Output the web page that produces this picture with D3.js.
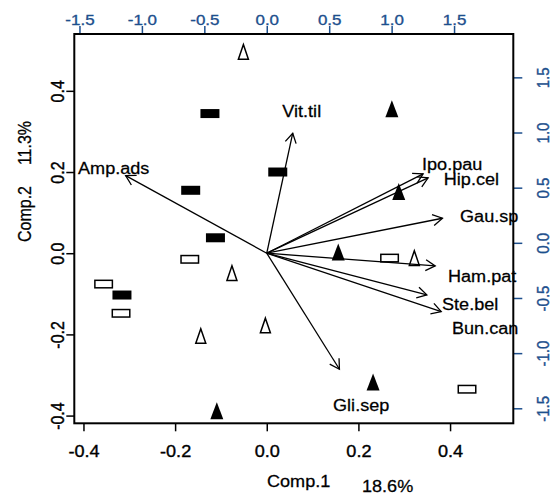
<!DOCTYPE html>
<html>
<head>
<meta charset="utf-8">
<script src="https://cdn.jsdelivr.net/npm/d3@7/dist/d3.min.js"></script>
<style>
  html, body { margin: 0; padding: 0; background: #fff; }
  svg { display: block; }
  text { font-family: "Liberation Sans", Arial, Helvetica, sans-serif; }
</style>
</head>
<body>
<svg id="chart" width="552" height="495"></svg>
<script>
// Site scores on the first two principal components
const siteComp1 = [-0.124, -0.166, 0.024, -0.112, -0.316,
                   -0.168, -0.356, -0.318, 0.268, 0.437,
                   0.273, 0.288, 0.156, 0.232, -0.109,
                   -0.051, -0.076, -0.144, -0.003, 0.322];
const siteComp2 = [0.344, 0.155, 0.200, 0.038, -0.103,
                   -0.015, -0.076, -0.148, -0.012, -0.335,
                   0.356, 0.152, 0.003, -0.317, -0.388,
                   0.496, -0.049, -0.204, -0.178, -0.012];
const siteGroup = ["A", "A", "A", "A", "A",
                   "B", "B", "B", "B", "B",
                   "C", "C", "C", "C", "C",
                   "D", "D", "D", "D", "D"];

// Species loadings (arrow tips) and where their names sit
const species = ["Amp.ads", "Vit.til", "Ipo.pau", "Hip.cel", "Gau.sp",
                 "Ham.pat", "Ste.bel", "Bun.can", "Gli.sep"];
const loadComp1 = [-1.130, 0.208, 1.252, 1.292, 1.407, 1.349, 1.282, 1.397, 0.582];
const loadComp2 = [0.702, 1.085, 0.717, 0.681, 0.316, -0.115, -0.377, -0.528, -1.049];
const labelComp1 = [-1.226, 0.280, 1.485, 1.639, 1.781, 1.725, 1.629, 1.749, 0.756];
const labelComp2 = [0.717, 1.235, 0.753, 0.618, 0.280, -0.257, -0.513, -0.732, -1.429];

// Tick values
const scoreTicks = [-0.4, -0.2, 0.0, 0.2, 0.4];
const loadTicks = [-1.5, -1.0, -0.5, 0.0, 0.5, 1.0, 1.5];

// Axis titles
const xTitle = "Comp.1", xVar = "18.6%";
const yTitle = "Comp.2", yVar = "11.3%";

// ---- layout ----
const svg = d3.select("#chart");
const box = { left: 74.3, right: 513.3, top: 34, bottom: 423.3 };
const stretch = 1.13;            // text is drawn slightly wide
const blue = "#1d4f8d";
const ratio = 3.67;              // loading units per score unit

const x = d3.scaleLinear().domain([-0.420, 0.538]).range([box.left, box.right]);
const y = d3.scaleLinear().domain([-0.419, 0.540]).range([box.bottom, box.top]);
const xl = d3.scaleLinear().domain(x.domain().map(v => v * ratio)).range(x.range());
const yl = d3.scaleLinear().domain(y.domain().map(v => v * ratio)).range(y.range());
const yr = d3.scaleLinear().domain([-1.636, 1.893]).range([box.bottom, box.top]);

const fmt = d => d.toFixed(1);

svg.append("rect").attr("width", 552).attr("height", 495).attr("fill", "#fff");

// ---- points ----
const pts = svg.append("g");
siteComp1.forEach((c1, i) => {
  const cx = x(c1), cy = y(siteComp2[i]), g = siteGroup[i];
  if (g === "A") {
    pts.append("rect").attr("x", cx - 9.5).attr("y", cy - 4.5)
      .attr("width", 19).attr("height", 9).attr("fill", "#000");
  } else if (g === "B") {
    pts.append("rect").attr("x", cx - 8.75).attr("y", cy - 3.75)
      .attr("width", 17.5).attr("height", 7.5)
      .attr("fill", "none").attr("stroke", "#000").attr("stroke-width", 1.5);
  } else if (g === "C") {
    pts.append("path")
      .attr("d", `M${cx},${cy - 8.5}L${cx + 6.5},${cy + 8.5}L${cx - 6.5},${cy + 8.5}Z`)
      .attr("fill", "#000");
  } else {
    pts.append("path")
      .attr("d", `M${cx},${cy - 7.3}L${cx + 5},${cy + 7.3}L${cx - 5},${cy + 7.3}Z`)
      .attr("fill", "none").attr("stroke", "#000").attr("stroke-width", 1.5)
      .attr("stroke-linejoin", "miter");
  }
});

// ---- loading arrows ----
const arr = svg.append("g").attr("stroke", "#000").attr("stroke-width", 1.3)
  .attr("fill", "none");
const ox = xl(0), oy = yl(0);
species.forEach((s, i) => {
  const tx = xl(loadComp1[i]), ty = yl(loadComp2[i]);
  arr.append("line").attr("x1", ox).attr("y1", oy).attr("x2", tx).attr("y2", ty);
  const ang = Math.atan2(ty - oy, tx - ox), len = 11, a = Math.PI / 6;
  const p1 = [tx - len * Math.cos(ang - a), ty - len * Math.sin(ang - a)];
  const p2 = [tx - len * Math.cos(ang + a), ty - len * Math.sin(ang + a)];
  arr.append("path").attr("d", `M${p1}L${tx},${ty}L${p2}`);
});

const labs = svg.append("g");
species.forEach((s, i) => {
  labs.append("text")
    .attr("transform", `translate(${xl(labelComp1[i])},${yl(labelComp2[i])}) scale(${stretch},1)`)
    .attr("text-anchor", "middle").attr("font-size", 16).attr("fill", "#000")
    .attr("stroke", "#000").attr("stroke-width", 0.25)
    .text(s);
});

// ---- axes ----
function styleAxis(g, color) {
  g.select(".domain").remove();
  g.selectAll(".tick line").attr("stroke", color).attr("stroke-width", 1.5);
  g.selectAll(".tick text").attr("fill", color).attr("x", null).attr("y", null)
    .attr("dy", null).attr("stroke", color).attr("stroke-width", 0.35);
}

const gB = svg.append("g").attr("transform", `translate(0,${box.bottom})`)
  .call(d3.axisBottom(x).tickValues(scoreTicks).tickFormat(fmt).tickSize(8).tickSizeOuter(0));
styleAxis(gB, "#000");
gB.selectAll(".tick text").attr("font-size", 16).attr("font-family", null)
  .attr("text-anchor", "middle")
  .attr("transform", `translate(0,${457 - box.bottom}) scale(${stretch},1)`);

const gL = svg.append("g").attr("transform", `translate(${box.left},0)`)
  .call(d3.axisLeft(y).tickValues(scoreTicks).tickFormat(fmt).tickSize(8).tickSizeOuter(0));
styleAxis(gL, "#000");
gL.selectAll(".tick text").attr("font-size", 16).attr("font-family", null)
  .attr("text-anchor", "middle")
  .attr("transform", `translate(${63.5 - box.left},0) scale(${stretch},1) rotate(-90)`);

const gT = svg.append("g").attr("transform", `translate(0,${box.top})`)
  .call(d3.axisTop(xl).tickValues(loadTicks).tickFormat(fmt).tickSize(8).tickSizeOuter(0));
styleAxis(gT, blue);
gT.selectAll(".tick text").attr("font-size", 15).attr("font-family", null)
  .attr("text-anchor", "middle")
  .attr("transform", `translate(0,${24.5 - box.top}) scale(${stretch},1)`);

const gR = svg.append("g").attr("transform", `translate(${box.right},0)`)
  .call(d3.axisRight(yr).tickValues(loadTicks).tickFormat(fmt).tickSize(9).tickSizeOuter(0));
styleAxis(gR, blue);
gR.selectAll(".tick text").attr("font-size", 15).attr("font-family", null)
  .attr("text-anchor", "middle")
  .attr("transform", `translate(${549 - box.right},0) scale(${stretch},1) rotate(-90)`);

// frame
svg.append("rect")
  .attr("x", box.left).attr("y", box.top)
  .attr("width", box.right - box.left).attr("height", box.bottom - box.top)
  .attr("fill", "none").attr("stroke", "#000").attr("stroke-width", 2);

// ---- titles ----
const titles = svg.append("g").attr("font-size", 16)
  .attr("stroke", "#000").attr("stroke-width", 0.25);
titles.append("text").attr("transform", `translate(267,487) scale(${stretch},1)`)
  .text(xTitle);
titles.append("text").attr("transform", `translate(362,492) scale(${stretch},1)`)
  .text(xVar);
titles.append("text").attr("transform", `translate(31,214) scale(${stretch},1) rotate(-90)`)
  .attr("text-anchor", "middle").text(yTitle);
titles.append("text").attr("transform", `translate(31,143) scale(${stretch},1) rotate(-90)`)
  .attr("text-anchor", "middle").text(yVar);
</script>
</body>
</html>
